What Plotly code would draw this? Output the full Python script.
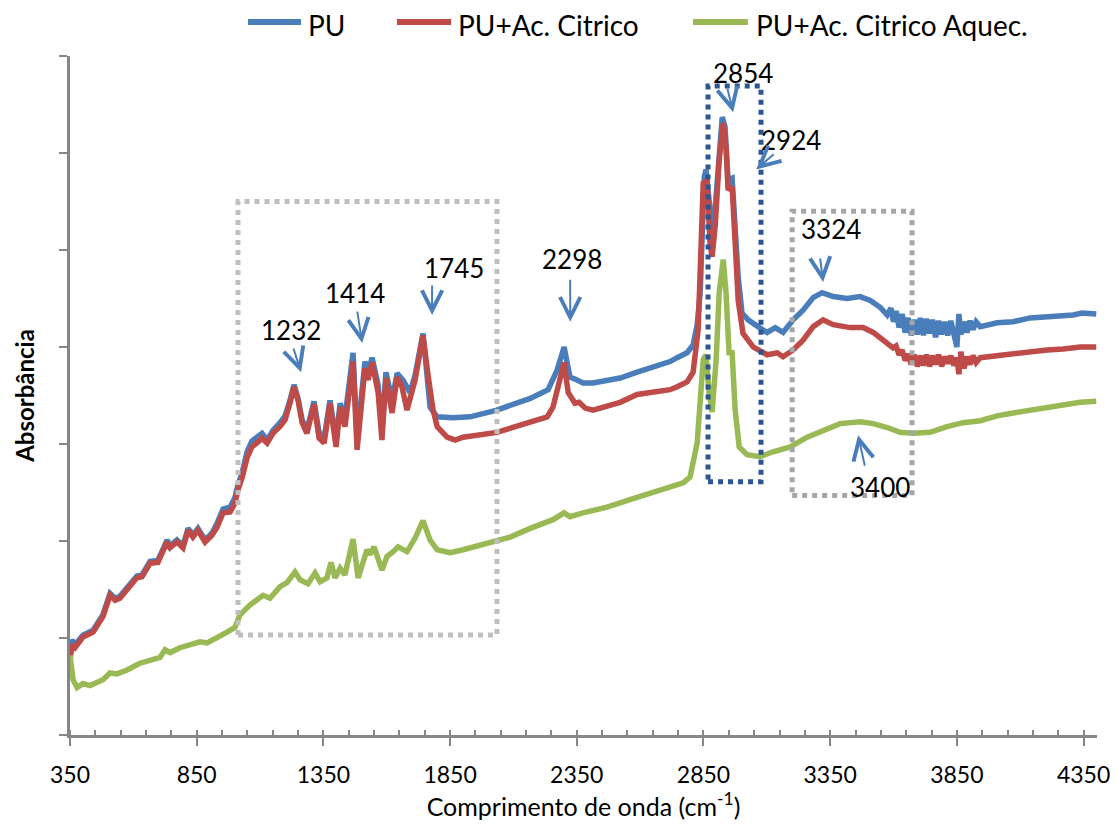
import plotly.graph_objects as go

# ---------------- data (wavenumber cm-1, absorbance in arbitrary units) ----------------
PU_wn = [350, 358, 370, 389, 401, 441, 480, 508, 528, 547, 575, 614, 634, 666, 697, 717, 733, 745, 772, 796,
         816, 835, 855, 883, 910, 930, 954, 982, 1001, 1013, 1029, 1049, 1068, 1088, 1108, 1128, 1151, 1179, 1199, 1218,
         1234, 1250, 1266, 1285, 1313, 1333, 1353, 1376, 1400, 1416, 1435, 1467, 1483, 1514, 1526, 1542, 1566, 1581, 1597, 1621,
         1641, 1664, 1692, 1712, 1743, 1771, 1799, 1862, 1929, 2035, 2166, 2237, 2272, 2300, 2323, 2351, 2375, 2414, 2521, 2588,
         2651, 2718, 2746, 2785, 2809, 2825, 2837, 2853, 2860, 2876, 2884, 2896, 2908, 2924, 2935, 2947, 2963, 2975, 2987, 3002,
         3026, 3065, 3101, 3133, 3164, 3204, 3243, 3283, 3318, 3362, 3417, 3468, 3508, 3547,
         3575, 3590, 3600, 3610, 3622, 3634, 3646, 3658, 3670, 3682, 3694, 3706, 3718, 3730, 3742, 3754, 3766, 3778, 3790, 3802,
         3814, 3826, 3838, 3850, 3858, 3866, 3878, 3890, 3902, 3914, 3926, 3942,
         4009, 4072, 4139, 4206, 4269, 4309, 4344, 4400]
PU_abs = [88, 98, 93, 100, 103, 108, 124, 146, 141, 143, 152, 164, 165, 179, 180, 190, 201, 195, 201, 195,
          213, 206, 213, 201, 208, 218, 233, 235, 245, 258, 270, 292, 303, 307, 311, 304, 314, 322, 329, 345,
          361, 347, 325, 314, 344, 312, 306, 345, 304, 342, 327, 394, 304, 385, 374, 389, 361, 314, 374, 345,
          373, 366, 353, 371, 414, 338, 328, 327, 328, 335, 347, 356, 376, 400, 369, 366, 363, 363, 368, 374,
          379, 385, 389, 394, 402, 423, 456, 575, 583, 541, 503, 541, 593, 637, 627, 572, 574, 524, 472, 435,
          428, 421, 415, 420, 415, 428, 438, 451, 456, 452, 450, 452, 448, 441,
          433, 440, 426, 437, 420, 434, 415, 430, 412, 428, 413, 430, 412, 429, 414, 428, 410, 427, 413, 426,
          412, 427, 414, 400, 434, 413, 426, 415, 427, 418, 426, 421,
          425, 426, 430, 431, 431, 433, 435, 434]

PUAC_wn = [350, 358, 370, 389, 401, 441, 480, 508, 528, 547, 575, 614, 634, 666, 697, 717, 733, 745, 772, 796,
           816, 835, 855, 883, 910, 930, 954, 982, 1001, 1013, 1029, 1049, 1068, 1088, 1108, 1128, 1151, 1179, 1199, 1218,
           1234, 1250, 1266, 1285, 1313, 1333, 1353, 1376, 1400, 1416, 1435, 1467, 1483, 1514, 1526, 1542, 1566, 1581, 1597, 1621,
           1641, 1660, 1680, 1712, 1743, 1763, 1783, 1799, 1838, 1870, 1901, 2035, 2166, 2233, 2256, 2276, 2300, 2316, 2343, 2359,
           2383, 2414, 2521, 2588, 2651, 2718, 2746, 2785, 2809, 2829, 2849, 2864, 2876, 2884, 2896, 2912, 2928, 2939, 2947, 2963,
           2975, 2987, 3006, 3046, 3101, 3141, 3164, 3204, 3243, 3283, 3322, 3362, 3429, 3480, 3520, 3559, 3598,
           3610, 3622, 3634, 3646, 3658, 3670, 3682, 3694, 3706, 3718, 3730, 3742, 3754, 3766, 3778, 3790, 3802, 3814, 3826, 3838,
           3850, 3858, 3866, 3878, 3890, 3902, 3914, 3926, 3942,
           4009, 4072, 4139, 4206, 4269, 4337, 4400]
PUAC_abs = [77, 93, 90, 98, 101, 106, 122, 144, 139, 141, 149, 162, 163, 177, 178, 188, 199, 193, 199, 193,
            211, 204, 211, 199, 206, 214, 229, 230, 239, 253, 265, 286, 297, 301, 306, 301, 311, 318, 325, 342,
            359, 345, 322, 311, 341, 306, 301, 342, 297, 338, 318, 385, 294, 378, 366, 384, 353, 304, 368, 332,
            369, 359, 335, 366, 412, 371, 335, 318, 307, 304, 307, 312, 322, 328, 338, 359, 384, 353, 342, 343,
            337, 335, 343, 351, 354, 356, 359, 364, 374, 418, 569, 572, 507, 493, 524, 593, 631, 606, 562, 565,
            507, 448, 414, 400, 392, 394, 390, 397, 407, 421, 428, 423, 420, 420, 415, 407, 399,
            401, 392, 397, 386, 393, 382, 392, 380, 391, 381, 392, 380, 391, 382, 392, 380, 390, 383, 391, 381,
            389, 372, 395, 378, 390, 382, 391, 384, 389,
            391, 394, 395, 397, 398, 400, 400]

PUACQ_wn = [350, 362, 378, 401, 429, 457, 480, 508, 536, 575, 626, 666, 705, 725, 745, 784, 824, 863, 891, 930,
            970, 1001, 1021, 1060, 1112, 1139, 1179, 1206, 1238, 1258, 1289, 1317, 1337, 1364, 1380, 1396, 1416, 1435, 1467, 1487,
            1506, 1522, 1534, 1550, 1581, 1601, 1625, 1645, 1680, 1712, 1743, 1771, 1799, 1850, 1901, 1980, 2087, 2166, 2256, 2300,
            2323, 2375, 2469, 2588, 2718, 2770, 2797, 2825, 2849, 2860, 2872, 2884, 2900, 2912, 2928, 2939, 2951, 2963, 2975, 2991,
            3022, 3073, 3125, 3192, 3259, 3322, 3389, 3468, 3520, 3575, 3626, 3677, 3744, 3811, 3875, 3942, 4009, 4072, 4139, 4206,
            4269, 4337, 4400]
PUACQ_abs = [82, 57, 49, 53, 51, 54, 57, 64, 63, 67, 74, 77, 80, 88, 85, 90, 93, 96, 95, 100,
             106, 111, 124, 134, 144, 141, 153, 157, 168, 160, 156, 167, 158, 162, 178, 162, 172, 165, 202, 162,
             180, 191, 186, 194, 170, 184, 189, 194, 189, 203, 221, 201, 191, 188, 191, 196, 204, 213, 222, 229,
             225, 229, 235, 245, 255, 260, 266, 301, 387, 392, 353, 333, 387, 456, 490, 456, 394, 394, 335, 297,
             289, 287, 292, 297, 307, 314, 321, 323, 321, 317, 312, 311, 312, 318, 322, 324, 329, 332, 335, 338,
             341, 343, 344]

SERIES_NAMES = ["PU", "PU+Ac. Citrico", "PU+Ac. Citrico Aquec."]
X_TICKS = [350, 850, 1350, 1850, 2350, 2850, 3350, 3850, 4350]

# peak labels: (text, text x, text y, arrow tail x, tail y, arrow head x, head y)
PEAK_LABELS = [
    ("1232", 1222, 418, 1230, 400, 1262, 374),
    ("1414", 1475, 456, 1483, 438, 1503, 404),
    ("1745", 1866, 481, 1779, 465, 1779, 433),
    ("2298", 2331, 491, 2324, 471, 2324, 426),
    ("2854", 3006, 682, 2943, 668, 2967, 642),
    ("2924", 3196, 613, 3133, 600, 3058, 583),
    ("3324", 3354, 522, 3310, 493, 3322, 467),
    ("3400", 3547, 256, 3488, 276, 3460, 309),
]
# highlight boxes: (x0, x1, y0, y1, colour)
BOXES = [
    (1013, 2035, 103, 550, "#BFBFBF"),
    (2868, 3077, 261, 669, "#2C5593"),
    (3200, 3673, 247, 540, "#A6A6A6"),
]

for a, b in [(PU_wn, PU_abs), (PUAC_wn, PUAC_abs), (PUACQ_wn, PUACQ_abs)]:
    assert len(a) == len(b), (len(a), len(b))

COLORS = ["#4A7EBB", "#BE4B48", "#98B954"]
FONT = "Lato, 'Open Sans', sans-serif"

fig = go.Figure()
for name, xs, ys, c in zip(SERIES_NAMES, [PU_wn, PUAC_wn, PUACQ_wn], [PU_abs, PUAC_abs, PUACQ_abs], COLORS):
    fig.add_trace(go.Scatter(x=xs, y=ys, mode="lines", name=name, showlegend=False,
                             line=dict(color=c, width=5.5)))

for x0, x1, y0, y1, c in BOXES:
    fig.add_shape(type="rect", xref="x", yref="y", x0=x0, x1=x1, y0=y0, y1=y1,
                  line=dict(color=c, width=5, dash="5px,5px"), fillcolor="rgba(0,0,0,0)", layer="above")

for txt, tx, ty, ax, ay, hx, hy in PEAK_LABELS:
    fig.add_annotation(x=tx, y=ty, xref="x", yref="y", text=txt, showarrow=False,
                       font=dict(family=FONT, size=26, color="black"))
    fig.add_annotation(x=hx, y=hy, ax=ax, ay=ay, xref="x", yref="y", axref="x", ayref="y",
                       text="", showarrow=True, arrowhead=5, arrowsize=2, arrowwidth=2,
                       arrowcolor="#4A7EBB", standoff=0, startstandoff=0)

# legend drawn across the top (line sample + label for each series)
LEGEND_X = [(0.1733, 0.2249, 0.2298), (0.3184, 0.3710, 0.3759), (0.6066, 0.6602, 0.6660)]
for name, c, (lx0, lx1, tx) in zip(SERIES_NAMES, COLORS, LEGEND_X):
    fig.add_shape(type="line", xref="paper", yref="paper", x0=lx0, x1=lx1, y0=1.050, y1=1.050,
                  line=dict(color=c, width=6))
    fig.add_annotation(x=tx, y=1.0457, xref="paper", yref="paper", text=name, showarrow=False,
                       xanchor="left", yanchor="middle", font=dict(family=FONT, size=28, color="black"))

axis_col = "#868686"
# the page body adds an 8 px margin, so the figure is 8 px smaller and margins compensate
fig.update_layout(
    width=1110, height=824,
    margin=dict(l=62, r=21, t=48, b=97, autoexpand=False),
    paper_bgcolor="white", plot_bgcolor="white",
    font=dict(family=FONT, color="black"),
    showlegend=False,
    xaxis=dict(range=[350, 4403], tickmode="array", tickvals=X_TICKS, automargin=False,
               showgrid=False, zeroline=False, showline=True, linecolor=axis_col, linewidth=2.5,
               ticks="outside", ticklen=8, tickwidth=2, tickcolor=axis_col,
               ticklabelstandoff=10,
               minor=dict(dtick=100, tick0=350, ticks="inside", ticklen=5, tickwidth=1.5, tickcolor=axis_col),
               tickfont=dict(size=23),
               title=dict(text="Comprimento de onda (cm<sup>-1</sup>)", font=dict(size=25), standoff=10)),
    yaxis=dict(range=[0, 700], dtick=100, showticklabels=False, automargin=False,
               showgrid=False, zeroline=False, showline=True, linecolor=axis_col, linewidth=2.5,
               ticks="outside", ticklen=8, tickwidth=2, tickcolor=axis_col,
               title=dict(text="<b>Absorbância</b>", font=dict(size=24), standoff=18)),
)

fig.write_html("out.html")
